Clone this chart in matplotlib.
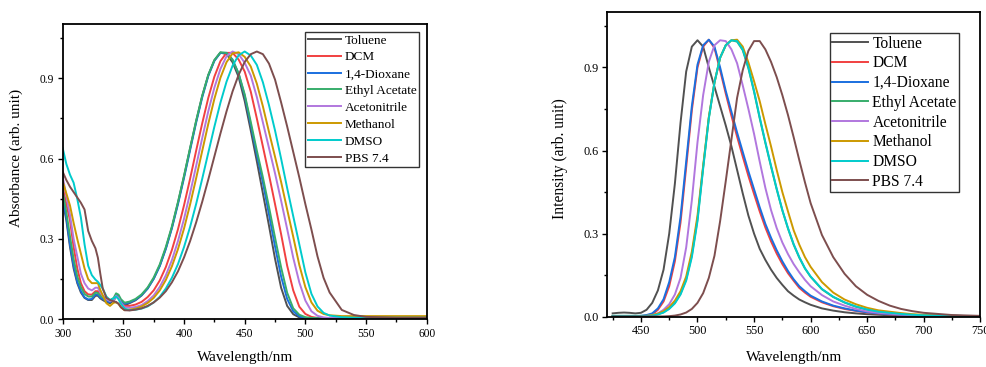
import matplotlib
matplotlib.use("Agg")
import matplotlib.pyplot as plt
from matplotlib.ticker import MultipleLocator

plt.rcParams['font.family'] = ['Liberation Serif', 'DejaVu Serif']

series_names = ["Toluene", "DCM", "1,4-Dioxane", "Ethyl Acetate", "Acetonitrile", "Methanol", "DMSO", "PBS 7.4"]
series_colors = ["#515151", "#F14040", "#1A6FDF", "#37AD6B", "#B177DE", "#CC9900", "#00CBCC", "#7D4E4E"]

# ---------------- Absorption data ----------------
abs_wl = [300, 303, 306, 309, 312, 315, 318, 321, 324, 327, 329, 331, 333, 336, 339, 342, 344, 346, 348, 351,
          355, 360, 365, 370, 375, 380, 385, 390, 395, 400, 405, 410, 415, 420, 425, 430,
          435, 440, 445, 450, 455, 460, 465, 470, 475, 480, 485, 490, 495, 500, 505, 510, 515, 520,
          530, 540, 550, 575, 600]

abs_toluene = [0.44, 0.37, 0.27, 0.19, 0.135, 0.10, 0.08, 0.072, 0.072, 0.088, 0.088, 0.078, 0.072, 0.064, 0.06, 0.07, 0.085, 0.08, 0.065, 0.052,
               0.06, 0.071, 0.089, 0.115, 0.152, 0.2, 0.265, 0.343, 0.435, 0.534, 0.638, 0.74, 0.834, 0.912, 0.967, 0.996,
               0.99, 0.96, 0.905, 0.815, 0.705, 0.59, 0.47, 0.35, 0.226, 0.118, 0.05, 0.019, 0.007, 0.003, 0.002, 0.002, 0.002, 0.002,
               0.002, 0.002, 0.002, 0.002, 0.002]
abs_dcm = [0.495, 0.43, 0.37, 0.27, 0.19, 0.135, 0.105, 0.093, 0.092, 0.105, 0.105, 0.09, 0.083, 0.072, 0.066, 0.075, 0.09, 0.085, 0.068, 0.05,
           0.05, 0.055, 0.065, 0.083, 0.108, 0.145, 0.195, 0.259, 0.336, 0.426, 0.525, 0.63, 0.732, 0.827, 0.906, 0.964,
           0.995, 0.995, 0.97, 0.925, 0.85, 0.75, 0.645, 0.54, 0.43, 0.318, 0.2, 0.108, 0.047, 0.02, 0.009, 0.005, 0.004, 0.004,
           0.004, 0.004, 0.004, 0.004, 0.004]
abs_dioxane = [0.451, 0.38, 0.28, 0.2, 0.14, 0.105, 0.082, 0.074, 0.076, 0.093, 0.092, 0.082, 0.076, 0.068, 0.064, 0.075, 0.09, 0.085, 0.07, 0.058,
               0.063, 0.073, 0.09, 0.115, 0.151, 0.199, 0.263, 0.34, 0.43, 0.528, 0.632, 0.735, 0.829, 0.909, 0.965, 0.995,
               0.995, 0.97, 0.917, 0.835, 0.726, 0.615, 0.51, 0.392, 0.272, 0.16, 0.076, 0.03, 0.011, 0.005, 0.003, 0.003, 0.003, 0.003,
               0.003, 0.003, 0.003, 0.003, 0.003]
abs_ethyl_acetate = [0.476, 0.4, 0.31, 0.225, 0.16, 0.12, 0.095, 0.085, 0.085, 0.1, 0.098, 0.088, 0.082, 0.075, 0.071, 0.08, 0.097, 0.092, 0.075, 0.062,
                     0.066, 0.076, 0.093, 0.119, 0.156, 0.205, 0.27, 0.347, 0.438, 0.536, 0.64, 0.742, 0.835, 0.913, 0.968, 0.997,
                     0.995, 0.968, 0.918, 0.84, 0.737, 0.63, 0.53, 0.42, 0.305, 0.194, 0.099, 0.041, 0.017, 0.008, 0.005, 0.004, 0.004, 0.004,
                     0.004, 0.004, 0.004, 0.004, 0.004]
abs_acetonitrile = [0.532, 0.46, 0.39, 0.3, 0.235, 0.17, 0.135, 0.115, 0.108, 0.118, 0.118, 0.1, 0.088, 0.075, 0.068, 0.07, 0.088, 0.08, 0.062, 0.045,
                    0.043, 0.046, 0.053, 0.068, 0.089, 0.121, 0.164, 0.221, 0.292, 0.375, 0.471, 0.573, 0.677, 0.777, 0.865, 0.935,
                    0.982, 1.0, 0.99, 0.958, 0.91, 0.83, 0.735, 0.64, 0.545, 0.443, 0.337, 0.23, 0.138, 0.07, 0.03, 0.013, 0.007, 0.005,
                    0.005, 0.005, 0.005, 0.005, 0.005]
abs_methanol = [0.514, 0.47, 0.425, 0.36, 0.3, 0.245, 0.19, 0.15, 0.135, 0.135, 0.135, 0.11, 0.09, 0.06, 0.05, 0.062, 0.063, 0.058, 0.045, 0.034,
                0.036, 0.04, 0.048, 0.061, 0.08, 0.108, 0.147, 0.198, 0.262, 0.339, 0.429, 0.527, 0.629, 0.73, 0.823, 0.902,
                0.96, 0.993, 0.997, 0.98, 0.944, 0.88, 0.795, 0.70, 0.607, 0.513, 0.41, 0.308, 0.203, 0.12, 0.063, 0.032, 0.02, 0.015,
                0.012, 0.012, 0.012, 0.012, 0.012]
abs_dmso = [0.639, 0.58, 0.54, 0.51, 0.45, 0.38, 0.28, 0.2, 0.165, 0.148, 0.14, 0.128, 0.115, 0.085, 0.072, 0.078, 0.085, 0.075, 0.058, 0.04,
            0.034, 0.036, 0.04, 0.048, 0.063, 0.084, 0.115, 0.155, 0.206, 0.27, 0.345, 0.431, 0.525, 0.622, 0.719, 0.809,
            0.887, 0.947, 0.986, 1.0, 0.985, 0.95, 0.885, 0.8, 0.705, 0.6, 0.49, 0.385, 0.28, 0.175, 0.095, 0.048, 0.024, 0.014,
            0.008, 0.006, 0.006, 0.006, 0.006]
abs_pbs = [0.551, 0.52, 0.495, 0.475, 0.455, 0.435, 0.41, 0.33, 0.293, 0.265, 0.23, 0.17, 0.115, 0.08, 0.072, 0.067, 0.065, 0.058, 0.045, 0.034,
           0.033, 0.036, 0.041, 0.05, 0.063, 0.081, 0.105, 0.138, 0.179, 0.231, 0.292, 0.362, 0.439, 0.522, 0.608, 0.694,
           0.776, 0.851, 0.913, 0.961, 0.99, 1.0, 0.99, 0.955, 0.895, 0.81, 0.72, 0.625, 0.53, 0.43, 0.335, 0.235, 0.155, 0.10,
           0.035, 0.016, 0.009, 0.006, 0.006]

# ---------------- Emission data ----------------
em_wl = [425, 430, 435, 440, 445, 450, 455, 460, 465, 470, 475, 480, 485, 490, 495, 500,
         505, 510, 515, 520, 525, 530, 535, 540, 545, 550, 555, 560, 565, 570, 575, 580, 585, 590, 595, 600,
         610, 620, 630, 640, 650, 660, 670, 680, 690, 700, 725, 750]

em_toluene = [0.012, 0.014, 0.015, 0.014, 0.012, 0.014, 0.025, 0.05, 0.095, 0.17, 0.3, 0.48, 0.7, 0.885, 0.975, 0.998,
              0.975, 0.9, 0.83, 0.76, 0.69, 0.615, 0.53, 0.445, 0.365, 0.3, 0.245, 0.205, 0.17, 0.14, 0.115, 0.092, 0.076, 0.062, 0.052, 0.043,
              0.03, 0.022, 0.016, 0.012, 0.009, 0.007, 0.005, 0.004, 0.003, 0.003, 0.002, 0.002]
em_dcm = [0.001, 0.001, 0.001, 0.001, 0.001, 0.002, 0.004, 0.008, 0.025, 0.055, 0.11, 0.2, 0.34, 0.54, 0.745, 0.9,
          0.975, 1.0, 0.97, 0.89, 0.805, 0.725, 0.65, 0.578, 0.508, 0.443, 0.38, 0.322, 0.272, 0.228, 0.19, 0.157, 0.13, 0.104, 0.087, 0.072,
          0.052, 0.038, 0.028, 0.021, 0.015, 0.011, 0.008, 0.006, 0.005, 0.004, 0.003, 0.002]
em_dioxane = [0.002, 0.002, 0.002, 0.002, 0.002, 0.003, 0.006, 0.012, 0.03, 0.063, 0.125, 0.215, 0.36, 0.56, 0.76, 0.91,
              0.98, 1.0, 0.975, 0.9, 0.815, 0.74, 0.665, 0.595, 0.525, 0.46, 0.395, 0.335, 0.285, 0.24, 0.2, 0.165, 0.135, 0.11, 0.092, 0.076,
              0.055, 0.04, 0.03, 0.022, 0.016, 0.012, 0.009, 0.007, 0.005, 0.004, 0.003, 0.002]
em_ethyl_acetate = [0.003, 0.003, 0.003, 0.003, 0.003, 0.003, 0.003, 0.004, 0.009, 0.016, 0.03, 0.05, 0.083, 0.135, 0.222, 0.352,
                    0.54, 0.718, 0.846, 0.935, 0.98, 0.998, 0.993, 0.962, 0.897, 0.812, 0.716, 0.627, 0.542, 0.46, 0.384, 0.318, 0.26, 0.213, 0.174, 0.144,
                    0.099, 0.071, 0.051, 0.036, 0.025, 0.018, 0.013, 0.01, 0.007, 0.005, 0.003, 0.002]
em_acetonitrile = [0.002, 0.002, 0.002, 0.002, 0.002, 0.002, 0.003, 0.006, 0.012, 0.025, 0.045, 0.08, 0.14, 0.25, 0.42, 0.63,
                   0.8, 0.92, 0.98, 0.998, 0.995, 0.965, 0.915, 0.835, 0.75, 0.66, 0.56, 0.465, 0.385, 0.32, 0.268, 0.226, 0.19, 0.16, 0.133, 0.11,
                   0.078, 0.055, 0.04, 0.028, 0.019, 0.014, 0.011, 0.008, 0.006, 0.005, 0.003, 0.002]
em_methanol = [0.002, 0.002, 0.002, 0.002, 0.002, 0.002, 0.003, 0.006, 0.011, 0.02, 0.035, 0.058, 0.092, 0.145, 0.235, 0.365,
               0.545, 0.72, 0.845, 0.935, 0.98, 0.998, 1.0, 0.975, 0.918, 0.85, 0.778, 0.695, 0.615, 0.53, 0.45, 0.38, 0.312, 0.26, 0.215, 0.18,
               0.125, 0.087, 0.062, 0.045, 0.032, 0.023, 0.018, 0.013, 0.009, 0.007, 0.003, 0.002]
em_dmso = [0.003, 0.003, 0.003, 0.003, 0.003, 0.003, 0.003, 0.004, 0.008, 0.015, 0.028, 0.048, 0.08, 0.13, 0.215, 0.345,
           0.535, 0.715, 0.845, 0.935, 0.98, 0.998, 0.995, 0.965, 0.9, 0.815, 0.72, 0.63, 0.545, 0.462, 0.385, 0.32, 0.262, 0.215, 0.175, 0.145,
           0.1, 0.072, 0.052, 0.037, 0.026, 0.018, 0.014, 0.01, 0.007, 0.005, 0.003, 0.002]
em_pbs = [0.001, 0.001, 0.001, 0.001, 0.001, 0.001, 0.001, 0.001, 0.001, 0.001, 0.002, 0.004, 0.008, 0.015, 0.028, 0.05,
          0.085, 0.14, 0.22, 0.345, 0.49, 0.64, 0.79, 0.89, 0.96, 0.995, 0.995, 0.965, 0.92, 0.865, 0.8, 0.728, 0.648, 0.565, 0.485, 0.41,
          0.295, 0.215, 0.155, 0.11, 0.079, 0.057, 0.04, 0.028, 0.02, 0.014, 0.006, 0.003]

abs_series = [abs_toluene, abs_dcm, abs_dioxane, abs_ethyl_acetate, abs_acetonitrile, abs_methanol, abs_dmso, abs_pbs]
em_series = [em_toluene, em_dcm, em_dioxane, em_ethyl_acetate, em_acetonitrile, em_methanol, em_dmso, em_pbs]

W, H = 986, 367
fig = plt.figure(figsize=(W / 100, H / 100), dpi=100)

ax1 = fig.add_axes([62.7 / W, (H - 319.3) / H, 364 / W, 295.3 / H])
ax2 = fig.add_axes([607 / W, (H - 316.7) / H, 373.3 / W, 304.7 / H])


def style_axes(ax, tick_fs):
    for s in ax.spines.values():
        s.set_linewidth(1.3)
        s.set_color("black")
    ax.tick_params(axis="both", which="major", direction="out", length=3.5, width=1.0,
                   labelsize=tick_fs, pad=2.5, top=False, right=False)
    ax.tick_params(axis="both", which="minor", direction="out", length=2.0, width=1.0,
                   top=False, right=False)
    ax.yaxis.set_major_locator(MultipleLocator(0.3))
    ax.yaxis.set_minor_locator(MultipleLocator(0.15))
    ax.yaxis.set_major_formatter(matplotlib.ticker.FormatStrFormatter("%.1f"))


for vals, name, col in zip(abs_series, series_names, series_colors):
    ax1.plot(abs_wl, vals, color=col, lw=1.4, label=name, solid_joinstyle="round")
ax1.set_xlim(300, 600)
ax1.set_ylim(0, 1.1027)
ax1.xaxis.set_major_locator(MultipleLocator(50))
ax1.xaxis.set_minor_locator(MultipleLocator(25))
style_axes(ax1, 8.3)
ax1.set_xlabel("Wavelength/nm", fontsize=11)
ax1.set_ylabel("Absorbance (arb. unit)", fontsize=11)
ax1.xaxis.set_label_coords(0.5, -0.131)
ax1.xaxis.label.set_va("center")
ax1.yaxis.set_label_coords(-0.1264, 0.546)
ax1.yaxis.label.set_va("center")
leg1 = ax1.legend(loc="upper left", bbox_to_anchor=(0.6657, 0.974), fontsize=9.5, frameon=True,
                  fancybox=False, framealpha=1, edgecolor="#333333", borderpad=0.2,
                  handlelength=2.5, handletextpad=0.3, labelspacing=0.35, borderaxespad=0)
leg1.get_frame().set_linewidth(1.0)

for vals, name, col in zip(em_series, series_names, series_colors):
    ax2.plot(em_wl, vals, color=col, lw=1.4, label=name, solid_joinstyle="round")
ax2.set_xlim(420, 750)
ax2.set_ylim(0, 1.1)
ax2.xaxis.set_major_locator(MultipleLocator(50))
ax2.xaxis.set_minor_locator(MultipleLocator(25))
style_axes(ax2, 8.8)
ax2.set_xlabel("Wavelength/nm", fontsize=11)
ax2.set_ylabel("Intensity (arb. unit)", fontsize=11.2)
ax2.xaxis.set_label_coords(0.5, -0.133)
ax2.xaxis.label.set_va("center")
ax2.yaxis.set_label_coords(-0.1267, 0.52)
ax2.yaxis.label.set_va("center")
leg2 = ax2.legend(loc="upper left", bbox_to_anchor=(0.5966, 0.930), fontsize=11.2, frameon=True,
                  fancybox=False, framealpha=1, edgecolor="#333333", borderpad=0.15,
                  handlelength=2.3, handletextpad=0.3, labelspacing=0.24, borderaxespad=0)
leg2.get_frame().set_linewidth(1.0)

fig.savefig("out.png", dpi=100)
